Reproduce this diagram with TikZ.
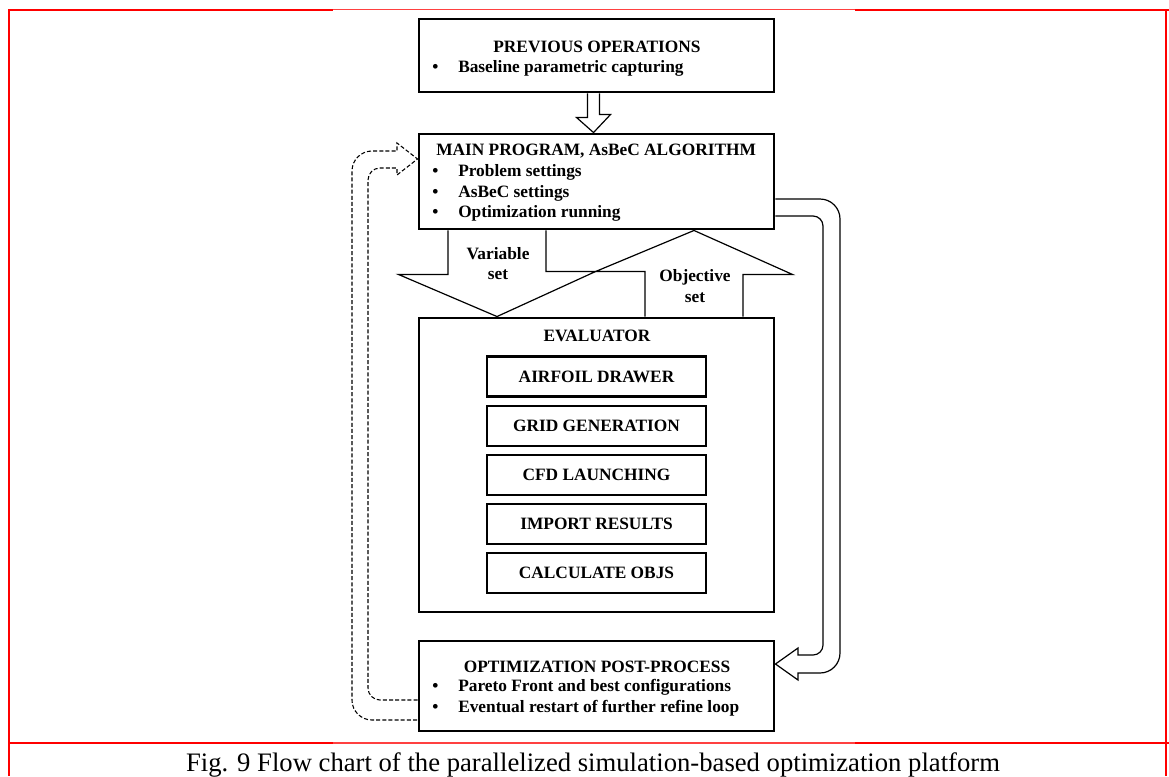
\documentclass[tikz,border=0pt]{standalone}
\usepackage{fontspec}
\setmainfont{Liberation Serif}
\usetikzlibrary{calc}

\newcommand\boxfont{\fontsize{13}{15.5}\selectfont\bfseries}
\newcommand\blt{\makebox[19.5pt][l]{\textbullet}}

\tikzset{
  bigbox/.style={draw, line width=2.2pt, minimum width=266.25pt, inner sep=0pt},
  subbox/.style={draw, line width=2.2pt, minimum width=164.25pt, minimum height=30pt, inner sep=0pt, font=\boxfont},
  blockarrow/.style={draw, line width=0.9pt, line join=miter},
  looparrow/.style={draw, line width=0.8pt, dash pattern=on 3pt off 1.6pt},
  labeltext/.style={inner sep=0pt, font=\boxfont},
  framethick/.style={draw=red, line width=1.5pt},
  framethin/.style={draw=red!75!white, line width=1pt},
}

\begin{document}
\begin{tikzpicture}[x=0.75pt,y=0.75pt,yscale=-1,xscale=1]
\useasboundingbox (0,0) rectangle (1169,776);

%Frame: table rules
\draw[framethick] (9,776) -- (9,9.5) -- (333,9.5);
\draw[framethin] (333,9.5) -- (855,9.5);
\draw[framethick] (855,9.5) -- (1169,9.5);
\draw[framethick] (9,743) -- (333,743);
\draw[framethin] (333,743) -- (855,743);
\draw[framethick] (855,743) -- (1169,743);
\draw[framethick] (1166,9.5) -- (1166,776);

%Shape: Rectangle (boxes)
\node[bigbox, minimum height=54.75pt] (prev) at (596.5,55.5) {};
\node[bigbox, minimum height=71.25pt] (main) at (596.5,181.5) {};
\node[bigbox, minimum height=220.5pt] (eval) at (596.5,465) {};
\node[bigbox, minimum height=67.5pt] (post) at (596.5,686) {};

%Shape: Rectangle (evaluator steps)
\node[subbox] (airfoil) at (596.5,376.5) {AIRFOIL DRAWER};
\node[subbox] (grid) at (596.5,426) {GRID GENERATION};
\node[subbox] (cfd) at (596.5,475) {CFD LAUNCHING};
\node[subbox] (import) at (596.5,524) {IMPORT RESULTS};
\node[subbox] (calcobj) at (596.5,573) {CALCULATE OBJS};

%Block Arrow: previous -> main
\coordinate (pa) at ($(prev.south)+(-3,0)$);
\draw[blockarrow] ($(pa)+(-6,0)$) -- ++(0,24) -- ++(-11,0) -- (pa |- main.north) -- ++(17,-18) -- ++(-11,0) -- ($(pa)+(6,0)$);

%Block Arrow: variable set (main -> evaluator)
\coordinate (va) at ($(main.south)+(-99.5,0)$);
\draw[blockarrow] ($(va)+(-49,0)$) -- ++(0,44) -- ++(-49.5,0) -- (va |- eval.north) -- ++(98.5,-45) -- ++(-49.5,0) -- ($(va)+(49,0)$);

%Block Arrow: objective set (evaluator -> main)
\coordinate (oa) at ($(eval.north)+(97.5,0)$);
\draw[blockarrow] ($(oa)+(-49,0)$) -- ++(0,-45) -- ++(-49.5,0) -- (oa |- main.south) -- ++(98.5,44) -- ++(-49.5,0) -- ($(oa)+(49,0)$);

%Curve Block Arrow: main -> post-process
\draw[blockarrow] ($(main.east)+(0,17.5)$) -- (820,199) arc(-90:0:20) -- (840,653) arc(0:90:20) -- (798,673) -- (798,680) -- ($(post.east)+(0,-22)$) -- (798,648) -- (798,655) -- (813,655) arc(90:0:10) -- (823,226) arc(0:-90:10) -- ($(main.east)+(0,34.5)$);

%Curve Block Arrow (dashed): post-process -> main
\draw[looparrow] ($(post.west)+(0,14)$) -- (380,700) arc(90:180:12) -- (368,180) arc(180:270:12) -- (397,168) -- (397,175) -- ($(main.west)+(0,-22.5)$) -- (397,143) -- (397,151) -- (372,151) arc(270:180:20) -- (352,700) arc(180:90:20) -- ($(post.west)+(0,34)$);

% Text Node
\node[labeltext] (prevttl) at (597,47) {PREVIOUS OPERATIONS};
% Text Node
\node[labeltext, anchor=west, align=left] (prevtxt) at (432,68) {\blt Baseline parametric capturing};
% Text Node
\node[labeltext, anchor=west, align=left] (maintxt) at (432,183) {\hspace{3pt}MAIN PROGRAM, AsBeC ALGORITHM\\\blt Problem settings\\\blt AsBeC settings\\\blt Optimization running};
% Text Node
\node[labeltext, align=center] (varset) at (498,263.5) {Variable\\set};
% Text Node
\node[labeltext, align=center] (objset) at (695,286) {Objective\\set};
% Text Node
\node[labeltext] (evalttl) at (597,336) {EVALUATOR};
% Text Node
\node[labeltext] (postttl) at (597,667) {OPTIMIZATION POST-PROCESS};
% Text Node
\node[labeltext, anchor=west, align=left] (posttxt) at (432,697.5) {\blt Pareto Front and best configurations\\\blt Eventual restart of further refine loop};
% Text Node
\node[inner sep=0pt, anchor=base, font=\fontsize{20}{24}\selectfont] (caption) at (593,771) {Fig. 9 Flow chart of the parallelized simulation-based optimization platform};

\end{tikzpicture}
\end{document}
